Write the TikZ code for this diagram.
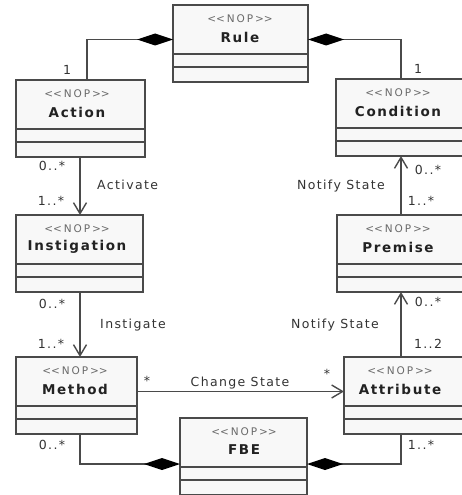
\documentclass[tikz,border=0pt]{standalone}
\usepackage{fontspec}
\usetikzlibrary{arrows.meta,calc}
\newfontfamily\stfont[LetterSpace=18,Ligatures=TeXOff]{DejaVu Sans}
\newfontfamily\nmfont[LetterSpace=12]{DejaVu Sans}
\newfontfamily\lbfont[LetterSpace=11]{DejaVu Sans}
\definecolor{boxline}{HTML}{4A4A4A}
\definecolor{boxfill}{HTML}{F8F8F8}
\definecolor{stereogray}{HTML}{6A6A6A}
\definecolor{namecol}{HTML}{222222}
\definecolor{lblcol}{HTML}{333333}

\tikzset{
  classbox/.style={draw=boxline, fill=boxfill, line width=1.4pt, rectangle,
    inner sep=0pt, outer sep=0pt, anchor=north west, minimum height=77pt},
  compline/.style={draw=boxline, line width=1.3pt},
  stereo/.style={font=\stfont\fontsize{10.5}{12}\selectfont, text=stereogray, inner sep=0pt},
  cname/.style={font=\nmfont\bfseries\fontsize{13.5}{15}\selectfont, text=namecol, inner sep=0pt},
  lbl/.style={font=\lbfont\fontsize{12.5}{14}\selectfont, text=lblcol, inner sep=0pt},
  link/.style={draw=boxline, line width=1.4pt},
  comp/.style={link, -{Diamond[length=36pt,width=12pt,color=black]}},
  nav/.style={link, -{Straight Barb[length=11pt,width=13pt]}},
}

% one UML class: #1 name, #2 left, #3 top, #4 right, #5 text centre x, #6 title
\newcommand\umlclass[6]{%
  \node[classbox, minimum width={(#4-#2)*1pt}] (#1) at (#2,#3) {};
  \draw[compline] ([yshift=-49pt]#1.north west) -- ([yshift=-49pt]#1.north east);
  \draw[compline] ([yshift=-62pt]#1.north west) -- ([yshift=-62pt]#1.north east);
  \node[stereo] (#1-st) at (#5,#3+14) {<\kern0pt<NOP>\kern0pt>};
  \node[cname] (#1-nm) at (#5,#3+32) {#6};
}

\begin{document}
\begin{tikzpicture}[x=1pt,y=-1pt]
  \useasboundingbox (0,0) rectangle (462,495);
  \clip (0,0) rectangle (462,495);

  % classes
  \umlclass{Rule}{173}{5}{308}{240}{Rule}
  \umlclass{Action}{16}{80}{145}{77}{Action}
  \umlclass{Condition}{336}{79}{466}{398}{Condition}
  \umlclass{Instigation}{16}{215}{143}{77}{Instigation}
  \umlclass{Premise}{337}{215}{466}{398}{Premise}
  \umlclass{Method}{16}{357}{137}{75}{Method}
  \umlclass{Attribute}{344}{357}{466}{400}{Attribute}
  \umlclass{FBE}{180}{418}{307}{244}{FBE}

  % compositions
  \draw[comp] ([xshift=71pt]Action.north west) |- ([yshift=4pt]Rule.west);
  \draw[comp] ([xshift=65pt]Condition.north west) |- ([yshift=4pt]Rule.east);
  \draw[comp] ([xshift=64pt]Method.south west) |- ([yshift=-46pt]FBE.north west);
  \draw[comp] ([xshift=57pt]Attribute.south west) |- ([yshift=-46pt]FBE.north east);

  % navigable associations
  \draw[nav] ([xshift=64pt]Action.south west) -- ([xshift=64pt]Instigation.north west);
  \draw[nav] ([xshift=64pt]Instigation.south west) -- ([xshift=64pt]Method.north west);
  \draw[nav] ([yshift=4pt]Method.east) -- ([yshift=4pt]Attribute.west);
  \draw[nav] ([xshift=64pt]Premise.north west) -- ([xshift=65pt]Condition.south west);
  \draw[nav] ([xshift=57pt]Attribute.north west) -- ([xshift=64pt]Premise.south west);

  % multiplicities and role labels
  \node[lbl] (m1) at (67,70) {1};
  \node[lbl] (m2) at (418,69) {1};
  \node[lbl] (m3) at (52,166) {0..*};
  \node[lbl, anchor=west] (l1) at (97,185) {Activate};
  \node[lbl] (m4) at (51,201) {1..*};
  \node[lbl] (m5) at (52,304) {0..*};
  \node[lbl, anchor=west] (l2) at (100,325) {Instigate};
  \node[lbl] (m6) at (51,344) {1..*};
  \node[lbl] (m7) at (147,381) {*};
  \node[lbl] (l3) at (240,383) {Change State};
  \node[lbl] (m8) at (327,374) {*};
  \node[lbl] (m9) at (52,445) {0..*};
  \node[lbl] (m10) at (421,445) {1..*};
  \node[lbl] (l4) at (341,186) {Notify State};
  \node[lbl] (m11) at (428,170) {0..*};
  \node[lbl] (m12) at (421,201) {1..*};
  \node[lbl] (l5) at (335,325) {Notify State};
  \node[lbl] (m13) at (428,302) {0..*};
  \node[lbl] (m14) at (428,344) {1..2};
\end{tikzpicture}
\end{document}
